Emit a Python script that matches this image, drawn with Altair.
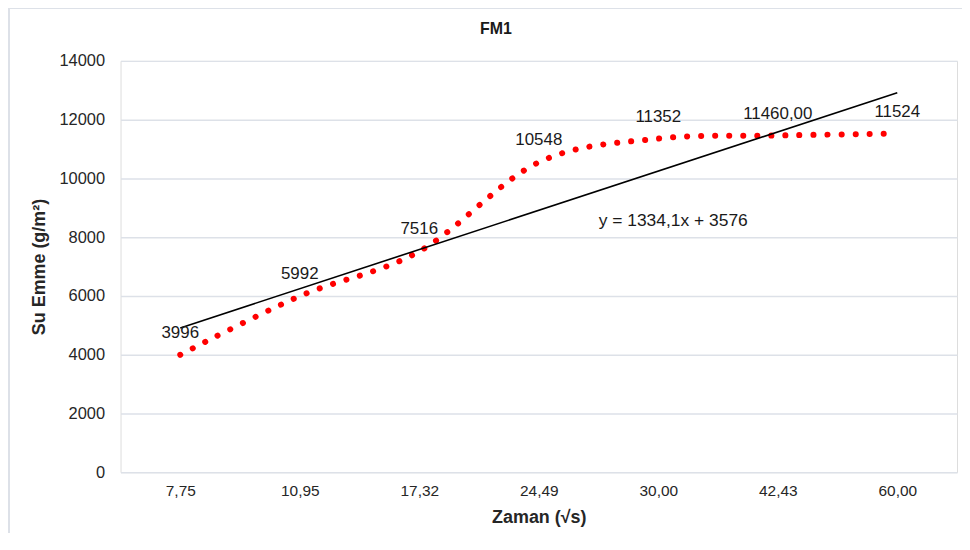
import json
import altair as alt
import pandas as pd

categories = ["7,75", "10,95", "17,32", "24,49", "30,00", "42,43", "60,00"]
values = [3996, 5992, 7516, 10548, 11352, 11460, 11524]
point_labels = ["3996", "5992", "7516", "10548", "11352", "11460,00", "11524"]
y_ticks = [0, 2000, 4000, 6000, 8000, 10000, 12000, 14000]
equation_text = "y = 1334,1x + 3576"
chart_title = "FM1"

df = pd.DataFrame({
    "idx": list(range(1, len(categories) + 1)),
    "cat": categories,
    "value": values,
    "label": point_labels,
})

FONT = "Liberation Sans"
W, H = 840, 413

label_expr = json.dumps(categories) + "[datum.value - 1]"

x_enc = alt.X(
    "idx:Q",
    scale=alt.Scale(domain=[0.5, len(categories) + 0.5], nice=False, zero=False),
    axis=alt.Axis(
        values=list(range(1, len(categories) + 1)),
        labelExpr=label_expr,
        grid=False, domain=False, ticks=False,
        labelPadding=11, labelFontSize=15.5, labelFont=FONT, labelColor="#262626",
        title="Zaman (√s)", titleFont=FONT, titleFontSize=18, titleFontWeight="bold",
        titleColor="#262626", titleY=46, titleBaseline="middle",
    ),
)
y_enc = alt.Y(
    "value:Q",
    scale=alt.Scale(domain=[0, 14000], nice=False),
    axis=alt.Axis(
        values=y_ticks, format="d",
        grid=True, gridColor="#dde1e8", gridWidth=1.5, domain=False, ticks=False,
        labelPadding=16, labelFontSize=16.5, labelFont=FONT, labelColor="#262626",
        title="Su Emme (g/m²)", titleFont=FONT, titleFontSize=18, titleFontWeight="bold",
        titleColor="#262626", titleX=-81, titleBaseline="middle",
    ),
)

base = alt.Chart(df)

border = alt.Chart(pd.DataFrame({"k": [0]})).mark_rect(
    fill="transparent", stroke="#dde1e8", strokeWidth=2
).encode(
    x=alt.value(-112), x2=alt.value(900), y=alt.value(-53), y2=alt.value(520)
)

title_mark = alt.Chart(pd.DataFrame({"t": [chart_title]})).mark_text(
    font=FONT, fontSize=16, fontWeight="bold", color="#1a1a1a",
    baseline="middle", align="center"
).encode(x=alt.value(377), y=alt.value(-32), text="t:N")

dots = base.mark_line(
    color="#ff0000", strokeWidth=6, strokeDash=[0.1, 14], strokeCap="round",
    interpolate="cardinal",
).encode(x=x_enc, y=y_enc)

trend = base.transform_regression("idx", "value").mark_line(
    color="#000000", strokeWidth=1.6
).encode(x=alt.X("idx:Q"), y=alt.Y("value:Q"))

labels = base.mark_text(
    font=FONT, fontSize=17, color="#1a1a1a", baseline="middle", dy=-22
).encode(x=alt.X("idx:Q"), y=alt.Y("value:Q"), text="label:N")

equation = alt.Chart(pd.DataFrame({"t": [equation_text]})).mark_text(
    font=FONT, fontSize=17.5, color="#1a1a1a", baseline="middle", align="center"
).encode(x=alt.value(555), y=alt.value(161), text="t:N")

chart = alt.layer(border, title_mark, dots, trend, labels, equation).properties(
    width=W, height=H,
    autosize=alt.AutoSizeParams(type="none"),
    padding={"left": 113, "top": 52, "right": 5, "bottom": 60},
).configure_view(stroke=None).configure(background="white")

chart.save("out.html", embed_options={"renderer": "svg", "actions": False})
